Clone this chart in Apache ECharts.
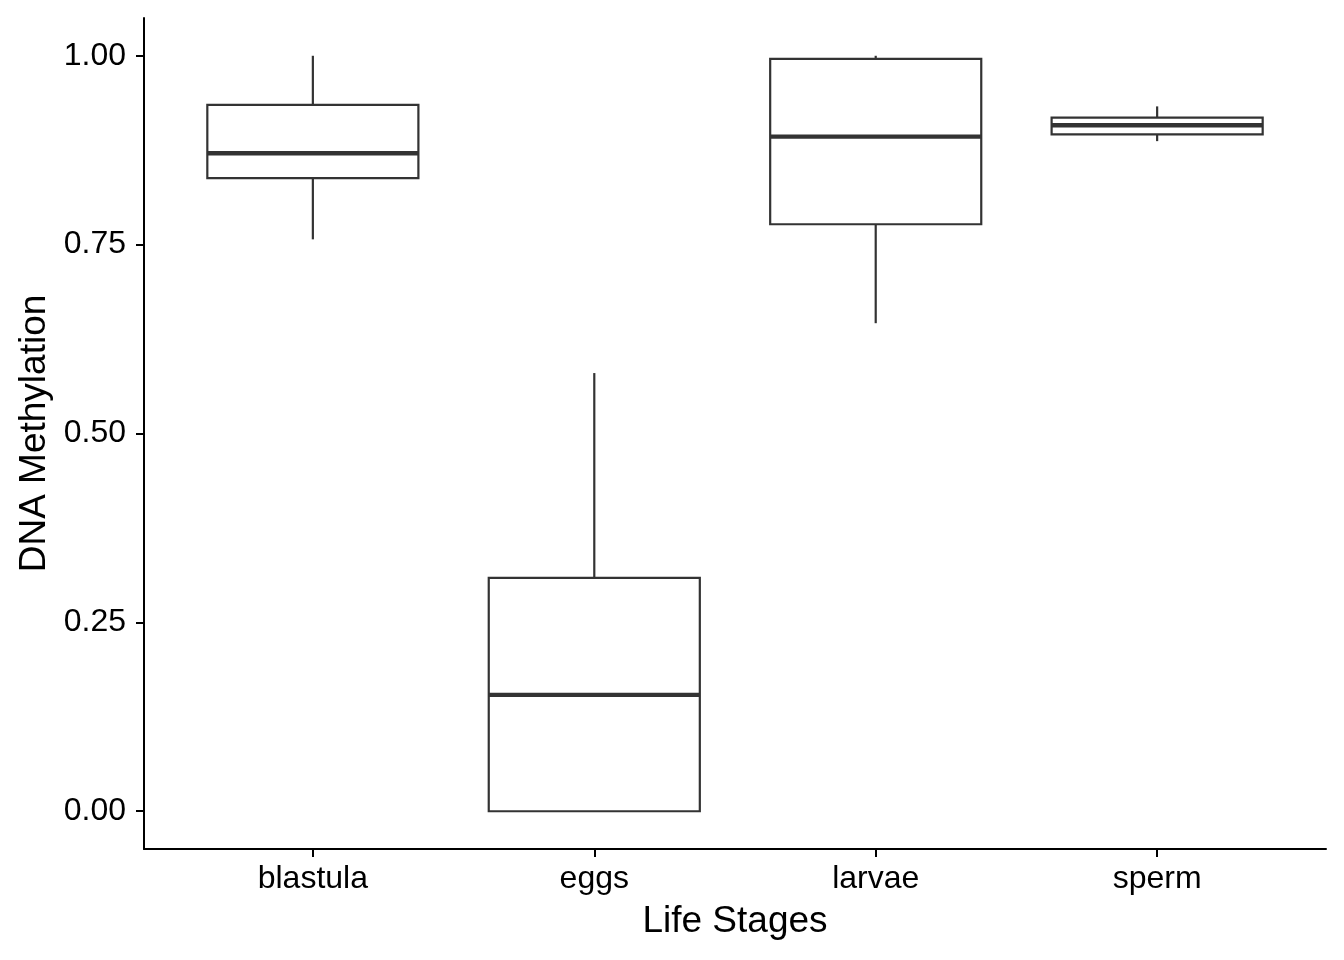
<!DOCTYPE html>
<html><head><meta charset="utf-8">
<script src="https://cdn.jsdelivr.net/npm/echarts@6/dist/echarts.min.js"></script>
<style>html,body{margin:0;padding:0;background:#fff}#c{width:1344px;height:960px}</style>
</head><body><div id="c"></div>
<script>
const categories = ['blastula', 'eggs', 'larvae', 'sperm'];
const lowValues    = [0.757, 0.000, 0.646, 0.887];
const q1Values     = [0.838, 0.000, 0.777, 0.896];
const medianValues = [0.871, 0.154, 0.893, 0.908];
const q3Values     = [0.935, 0.309, 0.996, 0.918];
const highValues   = [1.000, 0.580, 1.000, 0.933];
const yTicks = [0, 0.25, 0.5, 0.75, 1];
const xTicks = [1, 2, 3, 4];

const FONT = 'Liberation Sans, Arial, Helvetica, sans-serif';
const boxData = categories.map((c, i) => [i + 1, lowValues[i], q1Values[i], medianValues[i], q3Values[i], highValues[i]]);

const chart = echarts.init(document.getElementById('c'), null, {renderer: 'canvas'});
chart.setOption({
  backgroundColor: '#ffffff',
  animation: false,
  grid: {left: 144, right: 18, top: 18, bottom: 111, containLabel: false, outerBoundsMode: 'none'},
  xAxis: {
    type: 'value', min: 0.4, max: 4.6,
    axisLine: {show: true, onZero: false, lineStyle: {color: '#000', width: 2}},
    axisTick: {show: true, length: 8, customValues: xTicks, lineStyle: {color: '#000', width: 2}},
    axisLabel: {customValues: xTicks, formatter: v => categories[Math.round(v) - 1], fontSize: 32, color: '#000', fontFamily: FONT, margin: 14},
    splitLine: {show: false},
    name: 'Life Stages', nameLocation: 'middle', nameGap: 54,
    nameTextStyle: {fontSize: 37, color: '#000', fontFamily: FONT}
  },
  yAxis: {
    type: 'value', min: -0.05, max: 1.05,
    axisLine: {show: true, onZero: false, lineStyle: {color: '#000', width: 2}},
    axisTick: {show: true, length: 8, customValues: yTicks, lineStyle: {color: '#000', width: 2}},
    axisLabel: {customValues: yTicks, formatter: v => v.toFixed(2), fontSize: 32, color: '#000', fontFamily: FONT, margin: 18},
    splitLine: {show: false},
    name: 'DNA Methylation', nameLocation: 'middle', nameGap: 90, nameRotate: 90,
    nameTextStyle: {fontSize: 37, color: '#000', fontFamily: FONT}
  },
  series: [{
    type: 'custom',
    data: boxData,
    encode: {x: 0, y: [1, 2, 3, 4, 5]},
    renderItem: function (params, api) {
      const x = api.value(0);
      const low = api.coord([x, api.value(1)]);
      const q1 = api.coord([x, api.value(2)]);
      const med = api.coord([x, api.value(3)]);
      const q3 = api.coord([x, api.value(4)]);
      const high = api.coord([x, api.value(5)]);
      const half = api.size([0.75, 0])[0] / 2;
      const cx = low[0];
      const stroke = '#333333';
      return {type: 'group', children: [
        {type: 'line', shape: {x1: cx, y1: q3[1], x2: cx, y2: high[1]}, style: {stroke: stroke, lineWidth: 2.2}},
        {type: 'line', shape: {x1: cx, y1: low[1], x2: cx, y2: q1[1]}, style: {stroke: stroke, lineWidth: 2.2}},
        {type: 'rect', shape: {x: cx - half, y: q3[1], width: 2 * half, height: q1[1] - q3[1]}, style: {fill: '#ffffff', stroke: stroke, lineWidth: 2.2}},
        {type: 'line', shape: {x1: cx - half, y1: med[1], x2: cx + half, y2: med[1]}, style: {stroke: stroke, lineWidth: 4.4}}
      ]};
    }
  }]
});
</script></body></html>
